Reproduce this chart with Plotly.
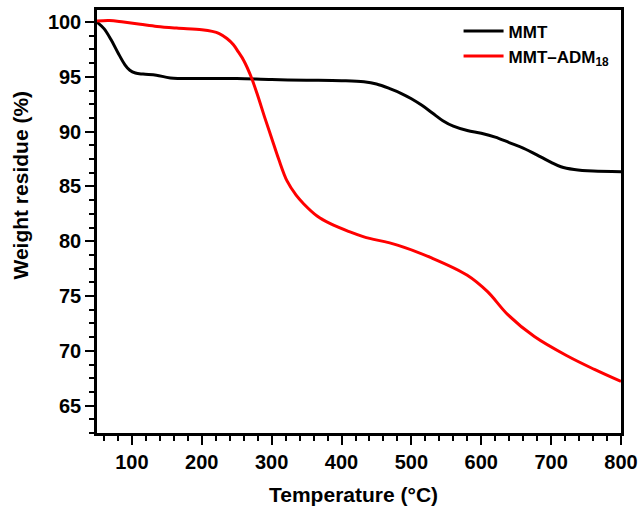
import plotly.graph_objects as go

# MMT
mmt_T = [50, 60, 70, 80, 90, 97, 105, 116, 135, 155, 200, 250, 300, 350, 400, 432, 450, 470, 485, 500,
         515, 530, 545, 560, 580, 600, 620, 640, 660, 685, 700, 714, 733, 760, 800]
mmt_W = [100.0, 99.4, 98.4, 97.2, 96.1, 95.6, 95.35, 95.25, 95.15, 94.9, 94.85, 94.85, 94.75, 94.7, 94.65,
         94.55, 94.35, 93.9, 93.5, 93.0, 92.4, 91.7, 91.0, 90.5, 90.1, 89.85, 89.5, 89.0, 88.5, 87.7,
         87.2, 86.8, 86.55, 86.4, 86.35]

# MMT-ADM18
adm_T = [50, 68, 88, 112, 136, 164, 200, 215, 225, 236, 245, 252, 260, 270, 280, 290, 300, 310, 322, 335,
         346, 365, 384, 410, 432, 480, 528, 580, 609, 638, 676, 724, 762, 800]
adm_W = [100.1, 100.15, 100.0, 99.8, 99.6, 99.45, 99.3, 99.15, 98.95, 98.5, 97.95, 97.3, 96.5, 95.1, 93.3,
         91.3, 89.4, 87.5, 85.5, 84.2, 83.4, 82.3, 81.6, 80.9, 80.4, 79.65, 78.5, 76.9, 75.4, 73.3,
         71.3, 69.5, 68.3, 67.2]

x_ticks = [100, 200, 300, 400, 500, 600, 700, 800]
y_ticks = [65, 70, 75, 80, 85, 90, 95, 100]

FONT = "Liberation Sans"

fig = go.Figure()
fig.add_trace(go.Scatter(x=mmt_T, y=mmt_W, mode="lines", name="<b>MMT</b>",
                         line=dict(color="black", width=3, shape="spline", smoothing=1.0)))
fig.add_trace(go.Scatter(x=adm_T, y=adm_W, mode="lines", name="<b>MMT\u2013ADM<sub>18</sub></b>",
                         line=dict(color="#ff0000", width=3, shape="spline", smoothing=1.0)))

axis_common = dict(
    showline=True, linecolor="black", linewidth=2.5, mirror=True,
    ticks="outside", ticklen=9, tickwidth=2, tickcolor="black",
    showgrid=False, zeroline=False, automargin=False,
    tickfont=dict(family=FONT, size=20, color="black"),
)

fig.update_xaxes(range=[50, 800], tickvals=x_ticks, ticktext=[f"<b>{v}</b>" for v in x_ticks],
                 minor=dict(dtick=20, tick0=0, ticklen=5, tickwidth=2, ticks="outside", tickcolor="black",
                            showgrid=False),
                 **axis_common)
fig.update_yaxes(range=[62.5, 101.1], tickvals=y_ticks, ticktext=[f"<b>{v}</b>" for v in y_ticks],
                 minor=dict(dtick=1.25, tick0=0, ticklen=5, tickwidth=2, ticks="outside", tickcolor="black",
                            showgrid=False),
                 **axis_common)

fig.add_annotation(text="<b>Temperature (°C)</b>", xref="paper", yref="paper", x=0.49, y=-0.145,
                   xanchor="center", yanchor="middle", showarrow=False,
                   font=dict(family=FONT, size=21, color="black"))
fig.add_annotation(text="<b>Weight residue (%)</b>", xref="paper", yref="paper", x=-0.145, y=0.585,
                   xanchor="center", yanchor="middle", showarrow=False, textangle=-90,
                   font=dict(family=FONT, size=21, color="black"))

fig.update_layout(
    width=640, height=506,
    margin=dict(l=97, r=19, t=10, b=73),
    paper_bgcolor="white", plot_bgcolor="white",
    showlegend=True,
    legend=dict(x=0.69, y=0.992, xanchor="left", yanchor="top", bgcolor="rgba(0,0,0,0)",
                font=dict(family=FONT, size=17, color="black"), itemwidth=40, tracegroupgap=0),
)

fig.write_html("out.html")
